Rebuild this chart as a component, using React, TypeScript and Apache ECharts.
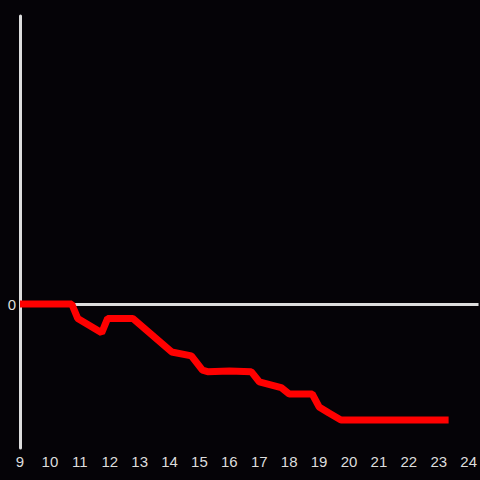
import React, { useEffect, useRef } from "react";
import * as echarts from "echarts";

const hours = [9, 10.73, 10.93, 11.73, 11.93, 12.77, 14.07, 14.73, 15.1, 15.27, 16.0, 16.73, 17.0, 17.73, 18.0, 18.77, 19.0, 19.33, 19.73, 23.33];
const values = [0, 0, -0.1, -0.2, -0.1, -0.1, -0.333, -0.36, -0.46, -0.47, -0.465, -0.47, -0.54, -0.58, -0.625, -0.625, -0.715, -0.757, -0.805, -0.805];
const yTickLabels = ["0"];

export default function App() {
  const ref = useRef<HTMLDivElement>(null);
  useEffect(() => {
    if (!ref.current) return;
    const chart = echarts.init(ref.current, null, { renderer: "svg" });
    chart.setOption({
      animation: false,
      backgroundColor: "#050307",
      grid: { left: 20, right: 0, top: 16, bottom: 32 },
      xAxis: {
        type: "value",
        min: 9,
        max: 24.33,
        interval: 1,
        axisLine: { show: false },
        axisTick: { show: false },
        splitLine: { show: false },
        axisLabel: {
          color: "#dddddd",
          fontSize: 15,
          fontFamily: "Liberation Sans",
          margin: 6,
          showMaxLabel: false,
          formatter: (v: number) => (Number.isInteger(v) ? String(v) : ""),
        },
      },
      yAxis: {
        type: "value",
        min: -1,
        max: 2,
        interval: 1,
        axisLine: { show: true, lineStyle: { color: "#dddddd", width: 3 } },
        axisTick: { show: false },
        splitLine: { show: false },
        axisLabel: {
          color: "#dddddd",
          fontSize: 15,
          fontFamily: "Liberation Sans",
          margin: 4,
          formatter: (v: number) => (yTickLabels.includes(String(v)) ? String(v) : ""),
        },
      },
      series: [
        {
          type: "line",
          data: hours.map((h, i) => [h, values[i]]),
          showSymbol: false,
          lineStyle: { color: "#ff0000", width: 7 },
          z: 3,
          markLine: {
            silent: true,
            symbol: "none",
            label: { show: false },
            lineStyle: { color: "#dddddd", width: 3, type: "solid" },
            data: [{ yAxis: 0 }],
            z: 1,
          },
        },
      ],
    });
    return () => chart.dispose();
  }, []);
  return <div ref={ref} style={{ width: 480, height: 480, position: "fixed", left: 0, top: 0 }} />;
}
